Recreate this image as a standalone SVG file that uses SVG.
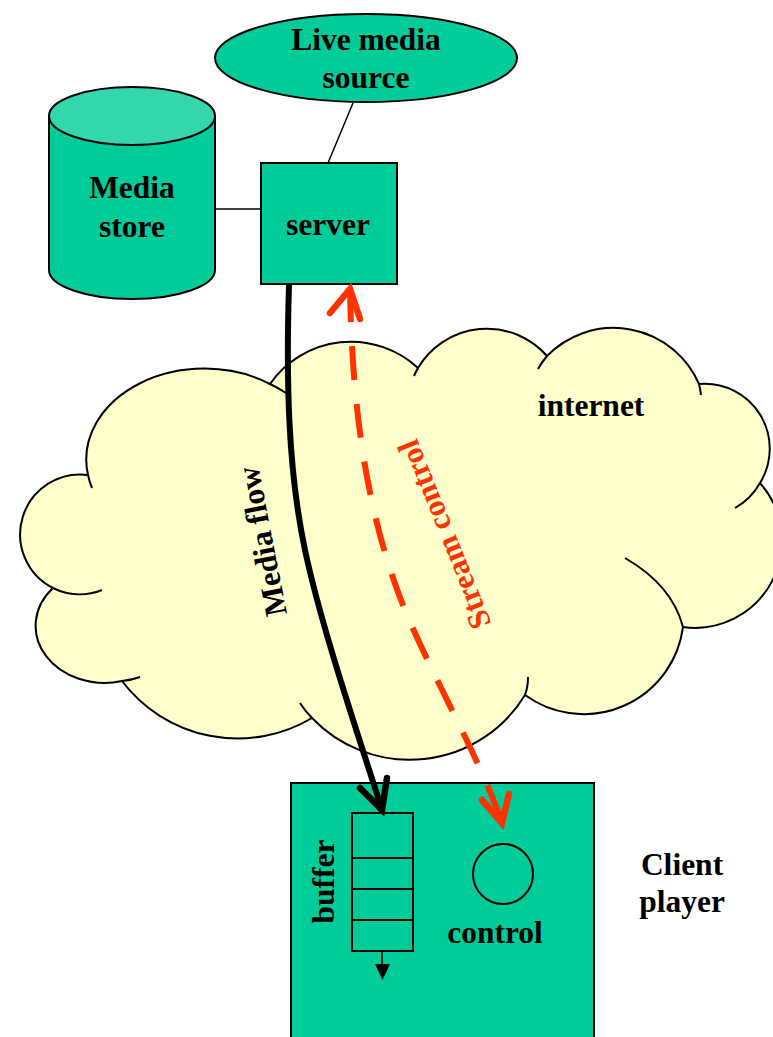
<svg xmlns="http://www.w3.org/2000/svg" width="773" height="1037" viewBox="0 0 773 1037">
<style>
.t{font-family:"Liberation Serif","Times New Roman",serif;font-weight:bold;font-size:31.5px;fill:#000;text-anchor:middle}
.node{fill:#00CC99;stroke:#000;stroke-width:2}
.thin{fill:none;stroke:#000;stroke-width:1.5}
.cl{fill:none;stroke:#000;stroke-width:2}
</style>
<rect width="773" height="1037" fill="#fff"/>
<g id="internet">
<path d="M 88 475 A 118 91 0 0 1 270 384 A 98 97 0 0 1 418 368 A 80 80 0 0 1 547 356 A 93 93 0 0 1 699 384 A 65 65 0 0 1 760 483 A 87 87 0 0 1 683 627 A 100 100 0 0 1 525 695 A 135 135 0 0 1 312 718 A 145 145 0 0 1 122 681 A 69 57 0 0 1 53 588 A 60 60 0 0 1 88 475 Z" fill="#FFFFCC" stroke="#000" stroke-width="2"/>
<path class="cl" d="M 92 488 A 118 91 0 0 1 88 475 M 270 384 A 118 91 0 0 1 286 393 M 414 376 A 80 80 0 0 1 418 368 M 538 369 A 93 93 0 0 1 547 356 M 699 384 A 93 93 0 0 1 701 395 M 760 483 A 65 65 0 0 1 735 508 M 625 558 Q 672 585 683 627 M 528 677 Q 528 687 525 695 M 312 718 Q 305 711 300 703 M 140 677 Q 132 680 122 681 M 102 590 A 60 60 0 0 1 53 588"/>
<text class="t" x="591" y="416">internet</text>
</g>
<g id="live-media-source">
<ellipse class="node" cx="366" cy="58" rx="151" ry="44"/>
<text class="t" x="366" y="50">Live media</text>
<text class="t" x="366" y="88">source</text>
</g>
<g id="media-store">
<path class="node" d="M 49 116 L 49 270 A 83 29 0 0 0 215 270 L 215 116"/>
<ellipse cx="132" cy="116" rx="83" ry="29" fill="#33D6AD" stroke="#000" stroke-width="2"/>
<text class="t" x="132" y="198">Media</text>
<text class="t" x="132" y="237">store</text>
</g>
<g id="server">
<rect class="node" x="261" y="163" width="136" height="121"/>
<text class="t" x="328" y="235">server</text>
</g>
<g id="client-player">
<rect class="node" x="291" y="783" width="303" height="262"/>
<g id="buffer">
<rect x="352" y="813" width="61" height="138" fill="none" stroke="#000" stroke-width="2"/>
<path d="M 352 858 H 413 M 352 889 H 413 M 352 920 H 413" stroke="#000" stroke-width="2"/>
<path d="M 382 951 V 966" stroke="#000" stroke-width="1.5"/>
<polygon points="375,964 390,964 382.5,980" fill="#000"/>
<text class="t" transform="translate(334 881.5) rotate(-90)">buffer</text>
</g>
<g id="control">
<circle cx="503" cy="874" r="30" fill="none" stroke="#000" stroke-width="2"/>
<text class="t" x="495" y="943">control</text>
</g>
<text class="t" x="682" y="875">Client</text>
<text class="t" x="682" y="912">player</text>
</g>
<g id="connectors">
<path class="thin" d="M 353 103 L 328 163"/>
<path class="thin" d="M 215 209 L 261 209"/>
<path d="M 289 285 C 286 380 288 470 305 550 C 322 630 360 740 382 810" fill="none" stroke="#000" stroke-width="6"/>
<polyline points="360,788 382,810 387,778" fill="none" stroke="#000" stroke-width="6.5" stroke-linecap="round" stroke-linejoin="miter"/>
<path d="M 350 288 C 352 420 370 530 410 622 C 440 690 480 760 503 825" fill="none" stroke="#FF3300" stroke-width="6" stroke-dasharray="34 24"/>
<polyline points="330,313 350,289 360,319" fill="none" stroke="#FF3300" stroke-width="6.5" stroke-linecap="round"/>
<polyline points="482,800 502,823 509,794" fill="none" stroke="#FF3300" stroke-width="6.5" stroke-linecap="round"/>
<text class="t" transform="translate(272.5 539.5) rotate(-101)">Media flow</text>
<text class="t" transform="translate(454 530.5) rotate(-112)" style="fill:#FF3300">Stream control</text>
</g>
</svg>
